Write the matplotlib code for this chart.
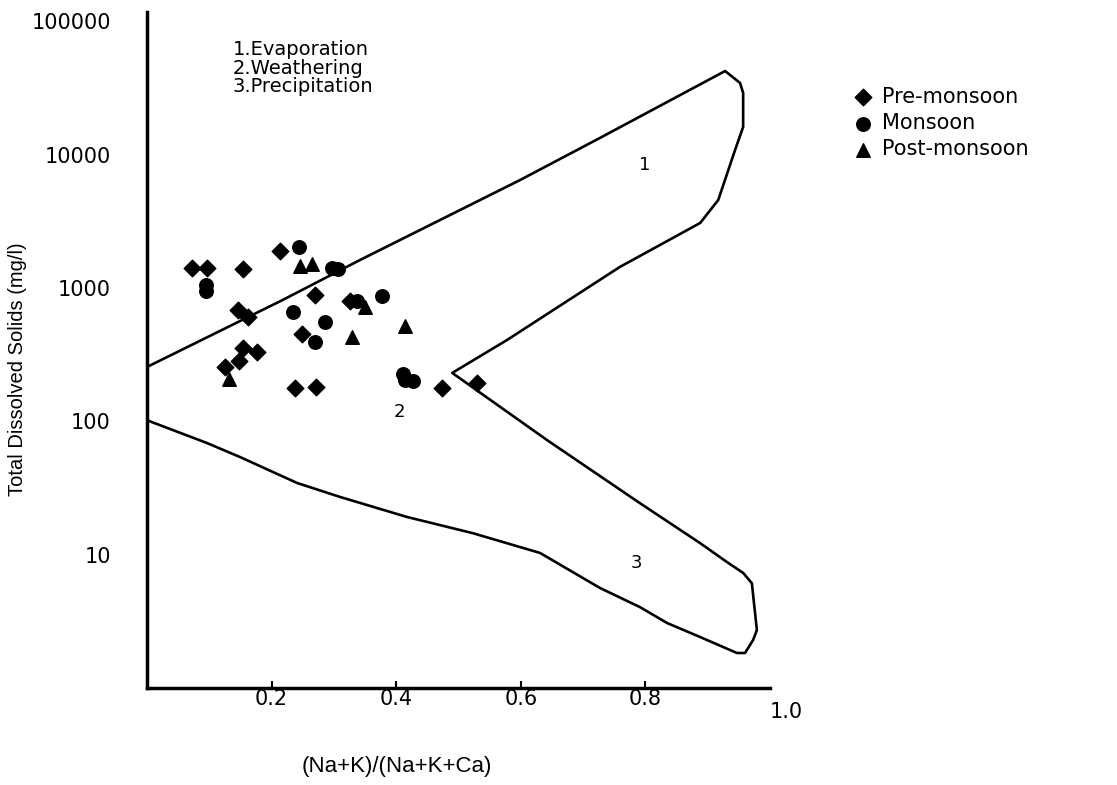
import matplotlib.pyplot as plt

plt.rcParams['font.family'] = ['Liberation Sans', 'DejaVu Sans']

# sample points: (Na+K)/(Na+K+Ca) ratio and TDS in mg/l
pre_ratio = [0.072, 0.096, 0.154, 0.213, 0.270, 0.146, 0.162, 0.249, 0.154,
             0.177, 0.148, 0.125, 0.238, 0.271, 0.474, 0.530, 0.326]
pre_tds = [1415, 1415, 1390, 1897, 888, 685, 607, 453, 355,
           332, 284, 256, 178, 181, 178, 194, 800]

mon_ratio = [0.244, 0.297, 0.307, 0.095, 0.095, 0.234, 0.337, 0.377, 0.286,
             0.270, 0.411, 0.427, 0.414]
mon_tds = [2034, 1415, 1390, 1055, 951, 662, 800, 873, 557,
           394, 227, 201, 205]

post_ratio = [0.246, 0.265, 0.350, 0.414, 0.329, 0.132]
post_tds = [1465, 1517, 722, 520, 430, 208]

gibbs_ratio = [0.0, 0.218, 0.342, 0.599, 0.727, 0.928, 0.952, 0.957, 0.957,
               0.944, 0.917, 0.888, 0.759, 0.578, 0.490, 0.642, 0.791, 0.888,
               0.931, 0.957, 0.971, 0.979, 0.973, 0.960, 0.947, 0.888, 0.835,
               0.791, 0.727, 0.631, 0.523, 0.417, 0.310, 0.241, 0.149, 0.096, 0.0]
gibbs_tds = [256, 815, 1625, 6470, 13370, 42500, 34600, 29100, 16170,
             10860, 4580, 3080, 1440, 408, 231, 72.5, 24.4, 12.2,
             8.8, 7.3, 6.1, 2.72, 2.29, 1.83, 1.83, 2.41, 3.07,
             4.05, 5.63, 10.3, 14.5, 19.2, 27.1, 34.5, 54.1, 68.9, 102]

zone_labels = ['1', '2', '3']
zone_ratio = [0.799, 0.405, 0.786]
zone_tds = [8400, 118, 8.7]

x_ticks = [0.2, 0.4, 0.6, 0.8]
y_ticks = [10, 100, 1000, 10000, 100000]

wide = ['DejaVu Sans']

fig = plt.figure(figsize=(11.17, 7.85), dpi=100)
ax = fig.add_axes([0.1316, 0.1236, 0.5577, 0.8611])

ax.plot(gibbs_ratio, gibbs_tds, color='black', lw=1.9)

ms = 95
ax.scatter(pre_ratio, pre_tds, marker='D', s=ms * 0.75, color='black', label='Pre-monsoon')
ax.scatter(mon_ratio, mon_tds, marker='o', s=ms, color='black', label='Monsoon')
ax.scatter(post_ratio, post_tds, marker='^', s=ms, color='black', label='Post-monsoon')

for t, xr, yt in zip(zone_labels, zone_ratio, zone_tds):
    ax.text(xr, yt, t, fontsize=13, ha='center', va='center', family=wide)

ax.text(0.138, 0.958, '1.Evaporation\n2.Weathering\n3.Precipitation',
        transform=ax.transAxes, fontsize=14, va='top', ha='left',
        linespacing=0.95, family=wide)

ax.set_yscale('log')
ax.set_xlim(0, 1.0)
ax.set_ylim(1, 117800)

ax.set_yticks(y_ticks)
ax.set_yticklabels([str(v) for v in y_ticks], family=wide)
ax.minorticks_off()
ax.tick_params(axis='y', length=0, pad=26, labelsize=15)
ax.set_xticks(x_ticks)
ax.set_xticklabels([str(v) for v in x_ticks], family=wide)
ax.tick_params(axis='x', direction='in', length=5, width=1.5, pad=1, labelsize=15)
ax.text(1.0, -0.035, '1.0', transform=ax.transAxes, fontsize=15,
        ha='left', va='center', family=wide)

for side in ['top', 'right']:
    ax.spines[side].set_visible(False)
for side in ['left', 'bottom']:
    ax.spines[side].set_linewidth(2.5)

fig.text(0.016, 0.53, 'Total Dissolved Solids (mg/l)', rotation=90,
         fontsize=14.5, ha='center', va='center')
fig.text(0.355, 0.024, '(Na+K)/(Na+K+Ca)', fontsize=16, ha='center', va='center')

ax.legend(loc='upper left', bbox_to_anchor=(0.754, 0.9), bbox_transform=fig.transFigure,
          frameon=False, prop={'family': wide, 'size': 15}, handletextpad=0.3,
          labelspacing=0.3, borderaxespad=0, handlelength=1.2)

fig.savefig('out.png', dpi=100)
